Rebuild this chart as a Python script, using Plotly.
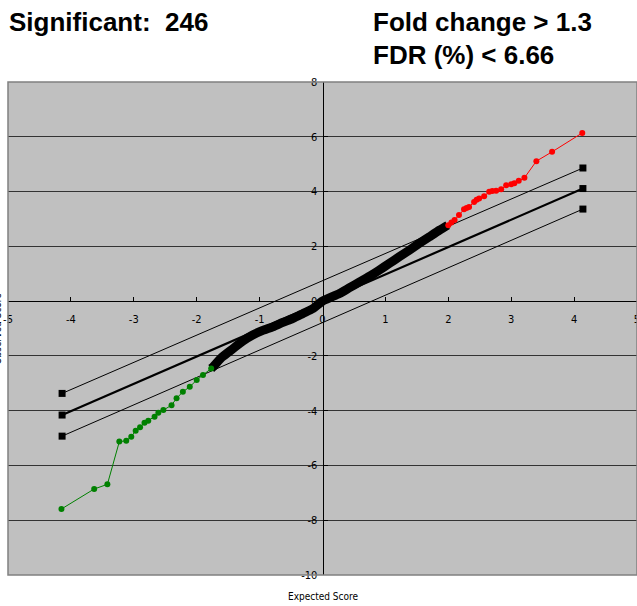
import plotly.graph_objects as go

# ---- data ----
black_x = [-1.77, -1.74, -1.60, -1.42, -1.26, -1.11, -0.95, -0.79, -0.63, -0.47, -0.31, -0.15, 0.0,
           0.27, 0.43, 0.59, 0.75, 0.90, 1.06, 1.22, 1.38, 1.54, 1.70, 1.86, 1.99]
black_y = [-2.46, -2.40, -2.05, -1.73, -1.45, -1.24, -1.07, -0.94, -0.78, -0.63, -0.45, -0.27, 0.0,
           0.28, 0.49, 0.70, 0.91, 1.13, 1.37, 1.62, 1.86, 2.11, 2.35, 2.59, 2.77]

red_x = [2.00, 2.05, 2.10, 2.17, 2.25, 2.29, 2.33, 2.41, 2.45, 2.49, 2.57, 2.65, 2.70, 2.76, 2.84,
         2.92, 3.00, 3.05, 3.12, 3.21, 3.40, 3.65, 4.13]
red_y = [2.77, 2.87, 2.96, 3.14, 3.35, 3.40, 3.44, 3.62, 3.70, 3.75, 3.83, 3.99, 4.02, 4.03, 4.08,
         4.23, 4.27, 4.30, 4.39, 4.50, 5.11, 5.45, 6.14]

green_x = [-1.77, -1.90, -2.00, -2.11, -2.22, -2.32, -2.40, -2.53, -2.61, -2.67, -2.77, -2.83,
           -2.90, -2.97, -3.04, -3.12, -3.23, -3.42, -3.63, -4.15]
green_y = [-2.46, -2.70, -2.88, -3.13, -3.31, -3.55, -3.80, -3.98, -4.08, -4.22, -4.37, -4.44,
           -4.61, -4.73, -4.95, -5.10, -5.13, -6.69, -6.86, -7.59]

band_x = [-4.14, 4.14]
mid_y = [-4.16, 4.11]
upper_y = [-3.37, 4.86]
lower_y = [-4.93, 3.36]

x_ticks = [-5, -4, -3, -2, -1, 0, 1, 2, 3, 4, 5]
x_ticktext = ["-5", "-4", "-3", "-2", "-1", "0", "1", "2", "3", "4", "5"]
y_ticks = [-10, -8, -6, -4, -2, 0, 2, 4, 6, 8]
y_ticktext = ["-10", "-8", "-6", "-4", "-2", "0", "2", "4", "6", "8"]

tick_font = dict(family="DejaVu Sans Condensed, Liberation Sans Narrow, Arial Narrow, sans-serif",
                 size=11, color="black")
head_font = dict(family="Liberation Sans, Arial, sans-serif", size=26, color="black")

# the page body margin is removed (post_script), so the figure fills the 637x606 window
W, H = 637, 606
ML, MR, MT, MB = 8, 0, 82, 31
PW, PH = W - ML - MR, H - MT - MB


def px_x(p):  # window pixel x -> paper x
    return (p - ML) / PW


def px_y(p):  # window pixel y -> paper y
    return 1 - (p - MT) / PH


fig = go.Figure()

fig.add_trace(go.Scatter(x=band_x, y=upper_y, mode="lines+markers",
                         line=dict(color="black", width=1),
                         marker=dict(symbol="square", size=7, color="black")))
fig.add_trace(go.Scatter(x=band_x, y=lower_y, mode="lines+markers",
                         line=dict(color="black", width=1),
                         marker=dict(symbol="square", size=7, color="black")))
fig.add_trace(go.Scatter(x=band_x, y=mid_y, mode="lines+markers",
                         line=dict(color="black", width=2.2),
                         marker=dict(symbol="square", size=7, color="black")))

fig.add_trace(go.Scatter(x=black_x, y=black_y, mode="lines",
                         line=dict(color="black", width=9, shape="spline", smoothing=0.6)))
fig.add_trace(go.Scatter(x=red_x, y=red_y, mode="lines+markers",
                         line=dict(color="#ff0000", width=1),
                         marker=dict(size=6, color="#ff0000")))
fig.add_trace(go.Scatter(x=green_x, y=green_y, mode="lines+markers",
                         line=dict(color="#008000", width=1),
                         marker=dict(size=6, color="#008000")))

fig.update_layout(
    width=W, height=H,
    margin=dict(l=ML, r=MR, t=MT, b=MB, autoexpand=False),
    paper_bgcolor="white", plot_bgcolor="#c0c0c0",
    showlegend=False,
    xaxis=dict(range=[-5, 5], tickvals=x_ticks, ticktext=x_ticktext, showgrid=False, zeroline=False,
               anchor="free", position=(0 + 10) / 18, showline=True, linecolor="black", linewidth=1,
               ticks="inside", ticklen=4, tickcolor="black", tickfont=tick_font,
               ticklabelstandoff=8, ticklabeloverflow="allow", automargin=False, fixedrange=True),
    yaxis=dict(range=[-10, 8], tickvals=y_ticks, ticktext=y_ticktext, showgrid=True,
               gridcolor="#333333", gridwidth=1,
               zeroline=False, anchor="free", position=0.5, showline=True, linecolor="black",
               linewidth=1, ticks="inside", ticklen=4, tickcolor="black", tickfont=tick_font,
               ticklabelstandoff=3, ticklabeloverflow="allow", automargin=False, fixedrange=True),
    shapes=[dict(type="rect", xref="paper", yref="paper", x0=0, x1=1, y0=0, y1=1,
                 line=dict(color="#808080", width=1.5), layer="above")],
    annotations=[
        dict(text="<b>Significant:  246</b>", xref="paper", yref="paper",
             x=px_x(7), xanchor="left", y=px_y(22), yanchor="middle",
             showarrow=False, font=head_font),
        dict(text="<b>Fold change > 1.3</b>", xref="paper", yref="paper",
             x=px_x(371), xanchor="left", y=px_y(22), yanchor="middle",
             showarrow=False, font=head_font),
        dict(text="<b>FDR (%) < 6.66</b>", xref="paper", yref="paper",
             x=px_x(371), xanchor="left", y=px_y(55), yanchor="middle",
             showarrow=False, font=head_font),
        dict(text="Expected Score", xref="paper", yref="paper",
             x=px_x(323), xanchor="center", y=px_y(596), yanchor="middle",
             showarrow=False, font=dict(tick_font, size=10)),
        dict(text="Observed Score", xref="paper", yref="paper", textangle=-90,
             x=px_x(-3), xanchor="center", y=0.5, yanchor="middle",
             showarrow=False, font=dict(tick_font, size=10)),
    ],
)

fig.write_html("out.html", config={"displayModeBar": False},
               post_script="document.body.style.margin='0';document.body.style.overflow='hidden';")
